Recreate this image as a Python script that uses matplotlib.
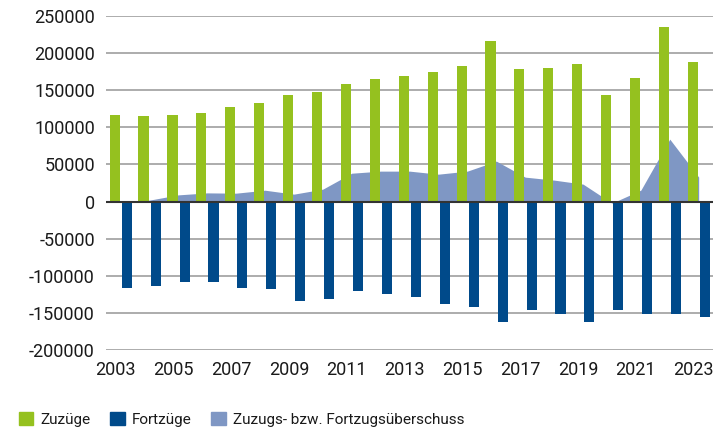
import matplotlib
matplotlib.use("Agg")
import matplotlib.pyplot as plt
import matplotlib.transforms as mtransforms
from matplotlib.patches import Patch
import numpy as np

years = list(range(2003, 2024))
zuzuege = [116800, 115500, 116800, 119500, 127600, 133000, 143800, 147800, 158600, 165400,
           169400, 174800, 182900, 216600, 178800, 180200, 185600, 143800, 166700, 235400, 188300]
fortzuege = [-116300, -113600, -107800, -107800, -116300, -117700, -133800, -131100, -120400, -124400,
             -128400, -137900, -141900, -162100, -145900, -151300, -162100, -145900, -151300, -151300, -155300]
saldo = [500, 1900, 9000, 11700, 11300, 15300, 10000, 16700, 38200, 41000,
         41000, 36900, 41000, 54500, 32900, 28900, 23500, -2100, 15400, 84100, 33000]
yticks = [-200000, -150000, -100000, -50000, 0, 50000, 100000, 150000, 200000, 250000]

c_green = "#95c11f"
c_blue = "#004a8a"
c_area = "#7f97c4"

plt.rcParams["font.family"] = ["Roboto", "DejaVu Sans"]

fig = plt.figure(figsize=(7.16, 4.33), dpi=100)
ax = fig.add_axes([0.148, 0.1917, 0.848, 0.7713])

x = np.arange(len(years))
ax.fill_between(x, saldo, 0, color=c_area, lw=0, zorder=1)
ax.bar(x - 0.2, zuzuege, width=0.35, color=c_green, zorder=2)
ax.bar(x + 0.22, fortzuege, width=0.35, color=c_blue, zorder=2)

ax.set_ylim(-200000, 250000)
ax.set_xlim(-0.5, 20.5)
ax.set_yticks(yticks)
ax.set_yticklabels([str(v) for v in yticks])
ax.yaxis.grid(True, color="#a6a6a6", lw=1.3, zorder=0)
ax.set_axisbelow(True)
ax.axhline(0, color="#333333", lw=1.5, zorder=3)
ax.set_xticks(x[::2])
ax.set_xticklabels([str(y) for y in years[::2]])
ax.tick_params(axis="both", length=0, labelsize=13, colors="#1a1a1a", pad=8)
ax.tick_params(axis="x", pad=8)
shift = mtransforms.ScaledTranslation(-5 / 100, 0, fig.dpi_scale_trans)
for lab in ax.get_xticklabels():
    lab.set_transform(lab.get_transform() + shift)
for s in ax.spines.values():
    s.set_visible(False)

handles = [Patch(color=c_green), Patch(color=c_blue), Patch(color=c_area)]
fig.legend(handles, ["Zuzüge", "Fortzüge", "Zuzugs- bzw. Fortzugsüberschuss"],
           loc="lower left", bbox_to_anchor=(0.007, -0.018), ncol=3, frameon=False,
           fontsize=11, handlelength=0.95, handleheight=0.95, handletextpad=0.45,
           columnspacing=1.3, labelcolor="#1a1a1a")

fig.savefig("out.png", dpi=100)
